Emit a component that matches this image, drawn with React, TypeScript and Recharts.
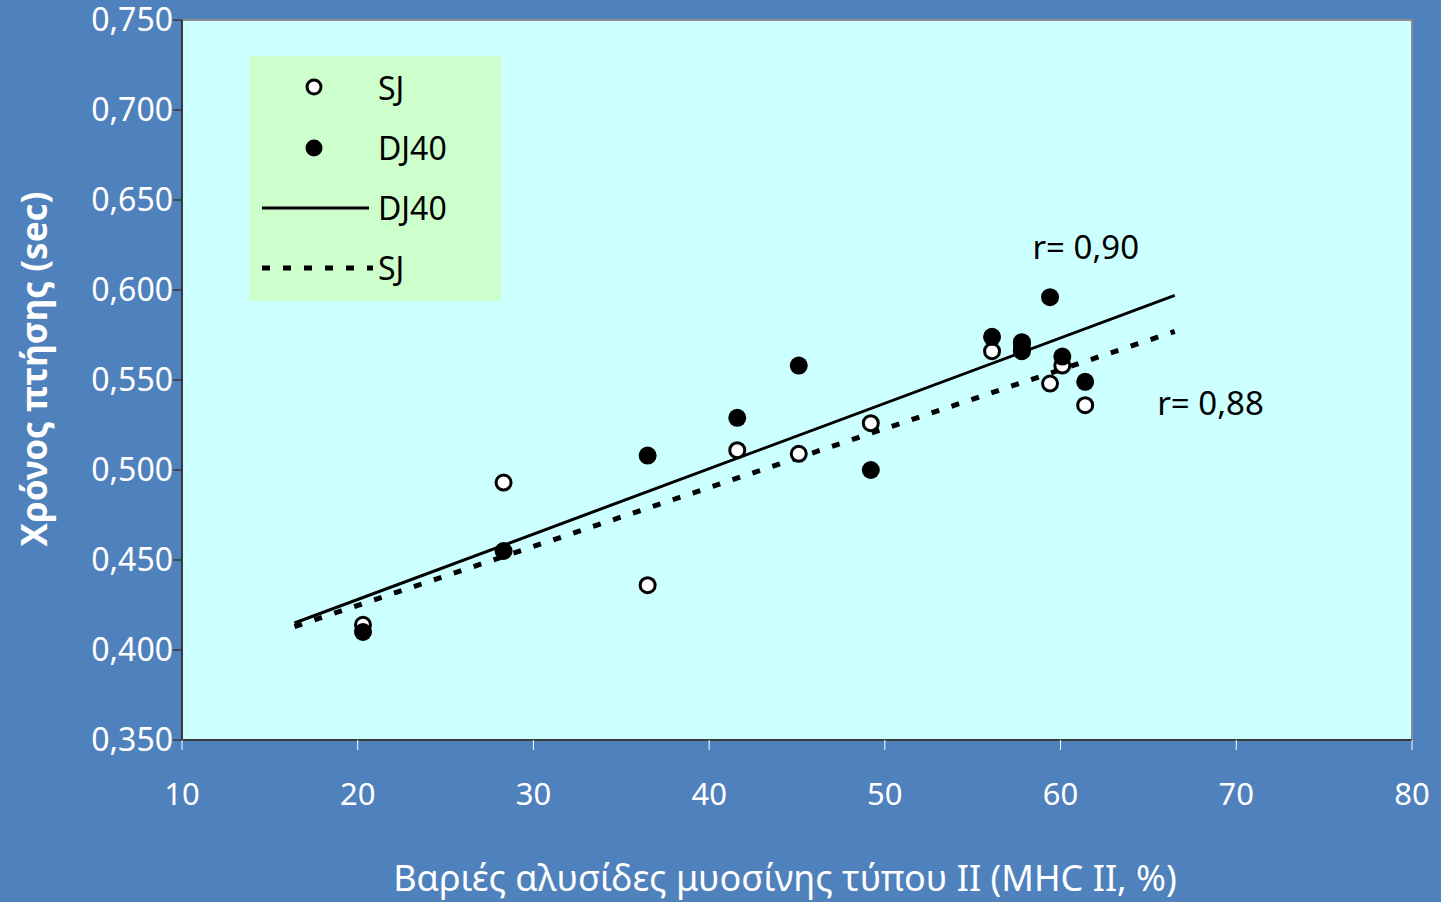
import { ScatterChart, Scatter, XAxis, YAxis, ReferenceArea, ReferenceDot, Legend, Label } from 'recharts';

// MHC II (%) per subject and flight time (sec)
const sjMhc = [20.3, 28.3, 36.5, 41.6, 45.1, 49.2, 56.1, 57.8, 57.8, 59.4, 60.1, 61.4];
const sjTime = [0.414, 0.493, 0.436, 0.511, 0.509, 0.526, 0.566, 0.567, 0.57, 0.548, 0.558, 0.536];
const djMhc = [20.3, 28.3, 36.5, 41.6, 45.1, 49.2, 56.1, 57.8, 57.8, 59.4, 60.1, 61.4];
const djTime = [0.41, 0.455, 0.508, 0.529, 0.558, 0.5, 0.574, 0.571, 0.566, 0.596, 0.563, 0.549];

// regression lines (end points)
const fitMhc = [16.4, 66.5];
const djFit = [0.415, 0.597];
const sjFit = [0.413, 0.577];

const xTicks = [10, 20, 30, 40, 50, 60, 70, 80];
const yTicks = [0.35, 0.4, 0.45, 0.5, 0.55, 0.6, 0.65, 0.7, 0.75];

const FONT = '"Noto Sans", "Open Sans", sans-serif';
const BG = '#4F81BD';

const toPoints = (xs: number[], ys: number[]) => xs.map((x, i) => ({ x, y: ys[i] }));
const sjData = toPoints(sjMhc, sjTime);
const djData = toPoints(djMhc, djTime);
const djLine = toPoints(fitMhc, djFit);
const sjLine = toPoints(fitMhc, sjFit);

const OpenDot = (p: any) => (
  <circle cx={p.cx} cy={p.cy} r={7.5} fill="#fff" stroke="#000" strokeWidth={3} />
);
const FilledDot = (p: any) => <circle cx={p.cx} cy={p.cy} r={9} fill="#000" />;
const NoDot = () => <g />;

const legendRows = [
  { name: 'SJ', kind: 'open' },
  { name: 'DJ40', kind: 'filled' },
  { name: 'DJ40', kind: 'solid' },
  { name: 'SJ', kind: 'dotted' },
];

function LegendBox() {
  return (
    <div style={{ background: '#CCFFCC', width: 252, height: 245, paddingTop: 2, boxSizing: 'border-box' }}>
      {legendRows.map((r, i) => (
        <div key={i} style={{ display: 'flex', alignItems: 'center', height: 60 }}>
          <svg width={129} height={60} style={{ display: 'block' }}>
            {r.kind === 'open' && <circle cx={65} cy={29} r={7} fill="#fff" stroke="#000" strokeWidth={3} />}
            {r.kind === 'filled' && <circle cx={65} cy={30} r={8.5} fill="#000" />}
            {r.kind === 'solid' && <line x1={13} x2={120} y1={30} y2={30} stroke="#000" strokeWidth={3} />}
            {r.kind === 'dotted' && (
              <line x1={13} x2={124} y1={30} y2={30} stroke="#000" strokeWidth={5} strokeDasharray="8 13" />
            )}
          </svg>
          <span style={{ fontFamily: FONT, fontSize: 32, color: '#000', lineHeight: '60px' }}>{r.name}</span>
        </div>
      ))}
    </div>
  );
}

const fmtY = (v: number) => v.toFixed(3).replace('.', ',');

export default function App() {
  return (
    <div style={{ position: 'absolute', left: 0, top: 0, width: 1441, height: 902, background: BG, overflow: 'hidden' }}>
      <ScatterChart width={1441} height={902} margin={{ top: 20, right: 29, bottom: 0, left: 0 }}>
        <ReferenceArea
          x1={10}
          x2={80}
          y1={0.35}
          y2={0.75}
          fill="#CCFFFF"
          fillOpacity={1}
          stroke="#8C8C8C"
          strokeWidth={2}
        />
        <XAxis
          dataKey="x"
          type="number"
          domain={[10, 80]}
          ticks={xTicks}
          height={162}
          tickSize={10}
          tickMargin={33}
          tickLine={{ stroke: '#fff', strokeWidth: 1 }}
          axisLine={{ stroke: '#3A3A3A', strokeWidth: 2 }}
          tick={{ fill: '#fff', fontSize: 31, fontFamily: FONT }}
          allowDataOverflow
        >
          <Label
            value="Βαριές αλυσίδες μυοσίνης τύπου ΙΙ (MHC II, %)"
            position="insideBottom"
            offset={11}
            dx={-12}
            fill="#fff"
            fontSize={36}
            fontFamily={FONT}
          />
        </XAxis>
        <YAxis
          dataKey="y"
          type="number"
          domain={[0.35, 0.75]}
          ticks={yTicks}
          width={182}
          tickSize={9}
          tickMargin={0}
          tickFormatter={fmtY}
          tickLine={{ stroke: '#3A3A3A', strokeWidth: 1.5 }}
          axisLine={{ stroke: '#3A3A3A', strokeWidth: 2 }}
          tick={{ fill: '#fff', fontSize: 32, fontFamily: FONT }}
          allowDataOverflow
        >
          <Label
            content={() => (
              <text
                x={33}
                y={369}
                transform="rotate(-90 33 369)"
                textAnchor="middle"
                dominantBaseline="central"
                fill="#fff"
                fontSize={35}
                fontWeight="bold"
                fontFamily={FONT}
              >
                Χρόνος πτήσης (sec)
              </text>
            )}
          />
        </YAxis>
        <Legend
          layout="vertical"
          align="center"
          verticalAlign="middle"
          wrapperStyle={{ left: 249, top: 56, width: 252, height: 245 }}
          content={() => <LegendBox />}
        />
        <Scatter
          name="DJ40 fit"
          data={djLine}
          line={{ stroke: '#000', strokeWidth: 3 }}
          shape={NoDot}
          isAnimationActive={false}
        />
        <Scatter
          name="SJ fit"
          data={sjLine}
          line={{ stroke: '#000', strokeWidth: 5, strokeDasharray: '8 13' }}
          shape={NoDot}
          isAnimationActive={false}
        />
        <Scatter name="SJ" data={sjData} shape={OpenDot} isAnimationActive={false} />
        <Scatter name="DJ40" data={djData} shape={FilledDot} isAnimationActive={false} />
        <ReferenceDot
          x={58.4}
          y={0.624}
          r={0}
          fill="none"
          stroke="none"
          label={{ value: 'r= 0,90', position: 'right', offset: 0, fill: '#000', fontSize: 33, fontFamily: FONT }}
        />
        <ReferenceDot
          x={65.5}
          y={0.537}
          r={0}
          fill="none"
          stroke="none"
          label={{ value: 'r= 0,88', position: 'right', offset: 0, fill: '#000', fontSize: 33, fontFamily: FONT }}
        />
      </ScatterChart>
    </div>
  );
}
